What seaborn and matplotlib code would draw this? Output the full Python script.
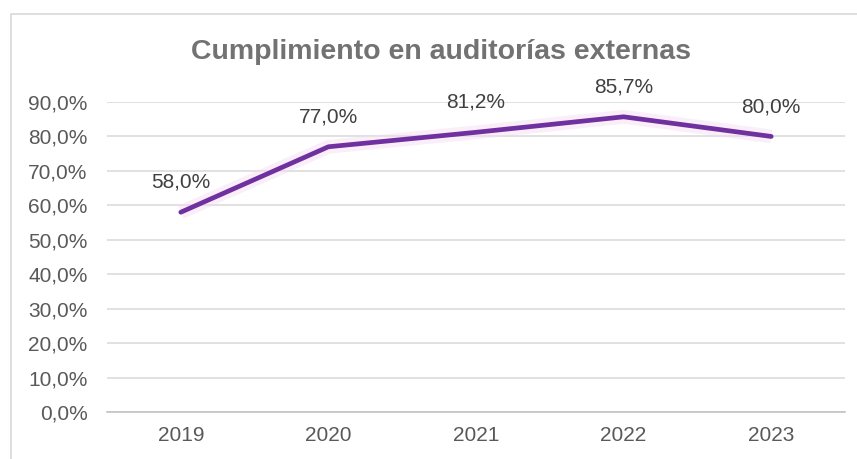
import matplotlib
matplotlib.use('Agg')
import matplotlib.pyplot as plt
import seaborn as sns
import pandas as pd
from matplotlib.patches import Rectangle
from matplotlib.ticker import FuncFormatter

# data
years = ['2019', '2020', '2021', '2022', '2023']
cumplimiento = [0.580, 0.770, 0.812, 0.857, 0.800]
titulo = 'Cumplimiento en auditorías externas'

df = pd.DataFrame({'year': years, 'value': cumplimiento})

sns.set_theme(style='white')
plt.rcParams['font.family'] = ['Liberation Sans', 'DejaVu Sans']

fig = plt.figure(figsize=(8.57, 4.59), dpi=100)
fig.patch.set_facecolor('white')

# chart frame (light gray border, cut off on the right and bottom)
fig.patches.append(Rectangle((11 / 857, -0.05), 1.0, 1 - 14 / 459 + 0.05,
                             transform=fig.transFigure, fill=False,
                             edgecolor='#d9d9d9', linewidth=1.2))

ax = fig.add_axes([107 / 857, 1 - 412 / 459, (845 - 107) / 857, (412 - 102) / 459])
x = list(range(len(years)))

# soft pink glow under the line
ax.plot(x, df['value'], color='#f5dcf3', linewidth=10, alpha=0.45,
        solid_capstyle='butt', zorder=2)
sns.lineplot(data=df, x='year', y='value', color='#7030a0', linewidth=3.4,
             ax=ax, zorder=3, sort=False)

for xi, v in zip(x, cumplimiento):
    ax.annotate(f'{v * 100:.1f}%'.replace('.', ','), (xi, v),
                xytext=(0, 21.5), textcoords='offset points',
                ha='center', va='center', fontsize=15, color='#404040')

ax.set_xlim(-0.5, 4.5)
ax.set_ylim(0, 0.9)
ax.set_yticks([i / 10 for i in range(10)])
ax.yaxis.set_major_formatter(FuncFormatter(lambda v, p: f'{v * 100:.1f}%'.replace('.', ',')))
ax.grid(axis='y', color='#d9d9d9', linewidth=1.1)
ax.grid(axis='x', visible=False)
for s in ['top', 'right', 'left']:
    ax.spines[s].set_visible(False)
ax.spines['bottom'].set_color('#bfbfbf')
ax.spines['bottom'].set_linewidth(1.1)
ax.tick_params(axis='y', length=0, pad=14, labelsize=15, labelcolor='#595959')
ax.tick_params(axis='x', length=0, pad=10, labelsize=15, labelcolor='#595959')
ax.set_xlabel('')
ax.set_ylabel('')

fig.text(441 / 857, 1 - 52 / 459, titulo, ha='center', va='center',
         fontsize=20.5, fontweight='bold', color='#727272')

plt.savefig('out.png', dpi=100)
